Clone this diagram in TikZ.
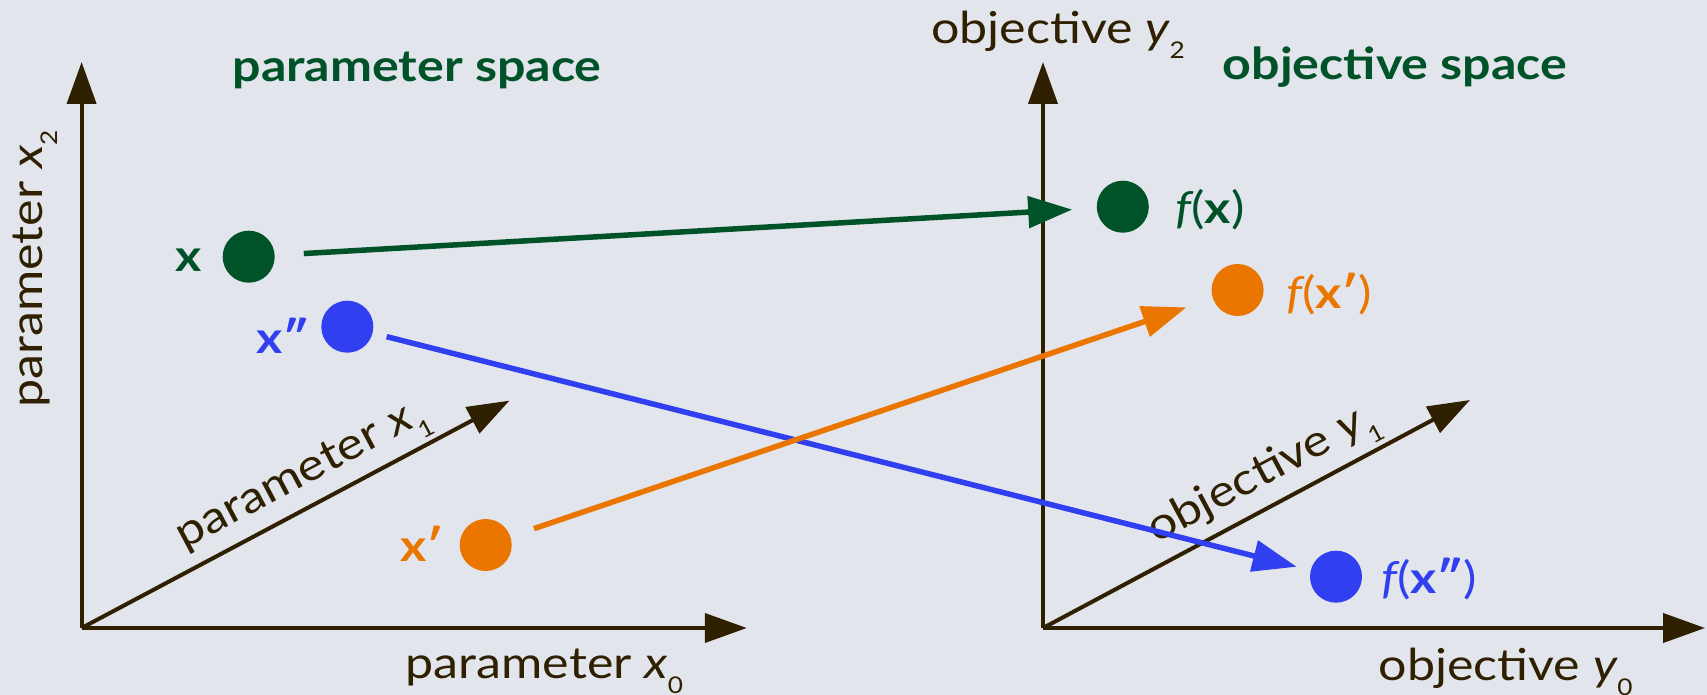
\documentclass[tikz,border=0pt]{standalone}
\usepackage{fontspec}
\setmainfont{Lato}[FakeStretch=1.14, Numbers=Lining]
\usetikzlibrary{arrows.meta}
\definecolor{bg}{RGB}{226,229,236}
\definecolor{ink}{RGB}{46,32,0}
\definecolor{dgreen}{RGB}{0,82,41}
\definecolor{vblue}{RGB}{48,64,240}
\definecolor{vorange}{RGB}{234,118,0}
\newcommand{\bigtxt}{\fontsize{44}{50}\selectfont}
\newcommand{\mysub}[1]{\raisebox{-15pt}{\fontsize{23}{26}\selectfont #1}}
\tikzset{
  axis/.style={draw=ink, line width=4pt, -{Triangle[length=42pt,width=29pt]}},
  conn/.style={line width=5.5pt, -{Triangle[length=44pt,width=31pt]}},
  dot/.style={circle, minimum size=52pt, inner sep=0pt},
  axlab/.style={text=ink, font=\bigtxt, inner sep=0pt},
  ptlab/.style={font=\bigtxt, inner sep=0pt},
  title/.style={text=dgreen, font=\bigtxt\bfseries, inner sep=0pt}
}
\begin{document}
\begin{tikzpicture}[x=1pt,y=-1pt]
\fill[bg] (0,0) rectangle (1707,695);
\useasboundingbox (0,0) rectangle (1707,695);
% left axes
\coordinate (po) at (81.6,628);
\coordinate (px2) at (81.6,62);
\coordinate (px0) at (746.8,628);
\coordinate (px1) at (509.5,400.6);
\draw[axis] (po) -- (px2);
\draw[axis] (po) -- (px0);
\draw[axis] (po) -- node[sloped, above, pos=0.55, axlab, inner sep=4pt] (lx1) {parameter {\itshape x}\mysub{1}} (px1);
% right axes
\coordinate (qo) at (1043,628);
\coordinate (qy2) at (1043,62);
\coordinate (qy0) at (1705,628);
\coordinate (qy1) at (1470,400);
\draw[axis] (qo) -- (qy2);
\draw[axis] (qo) -- (qy0);
\draw[axis] (qo) -- node[sloped, above, pos=0.55, axlab, inner sep=4pt] (ly1) {objective {\itshape y}\mysub{1}} (qy1);
% axis labels
\node[axlab, anchor=base west] (lx0) at (405.6,678) {parameter {\itshape x}\mysub{0}};
\node[axlab, anchor=base west, rotate=90] (lx2) at (42.4,408) {parameter {\itshape x}\mysub{2}};
\node[axlab, anchor=base west] (ly0) at (1378.6,680) {objective {\itshape y}\mysub{0}};
\node[axlab, anchor=base west] (ly2) at (931,43.3) {objective {\itshape y}\mysub{2}};
% titles
\node[title, anchor=base] (t1) at (417,81.7) {parameter space};
\node[title, anchor=base] (t2) at (1395,80) {objective space};
% points
\node[dot, fill=dgreen] (x) at (248.7,256.7) {};
\node[dot, fill=vblue] (xpp) at (347.3,326.7) {};
\node[dot, fill=vorange] (xp) at (485.7,545) {};
\node[dot, fill=dgreen] (fx) at (1122.8,206.7) {};
\node[dot, fill=vorange] (fxp) at (1237.6,290) {};
\node[dot, fill=vblue] (fxpp) at (1336,576.7) {};
% point labels
\node[ptlab, text=dgreen, anchor=base east] (lx) at (201.8,271.7) {\bfseries x};
\node[ptlab, text=vblue, anchor=base east] (lxpp) at (310,353.3) {\bfseries x″};
\node[ptlab, text=vorange, anchor=base east] (lxp) at (443.9,561.7) {\bfseries x′};
\node[ptlab, text=dgreen, anchor=base west] (lfx) at (1175.3,223) {{\itshape f}(\textbf{x})};
\node[ptlab, text=vorange, anchor=base west] (lfxp) at (1286,308) {{\itshape f}(\textbf{x′})};
\node[ptlab, text=vblue, anchor=base west] (lfxpp) at (1381,593) {{\itshape f}(\textbf{x″})};
% mapping arrows
\draw[conn, draw=dgreen, fill=dgreen, shorten <=29pt, shorten >=24.5pt] (x) -- (fx);
\draw[conn, draw=vblue, fill=vblue, shorten <=14.4pt, shorten >=14.4pt] (xpp) -- (fxpp);
\draw[conn, draw=vorange, fill=vorange, shorten <=24.8pt, shorten >=28pt] (xp) -- (fxp);
\end{tikzpicture}
\end{document}
